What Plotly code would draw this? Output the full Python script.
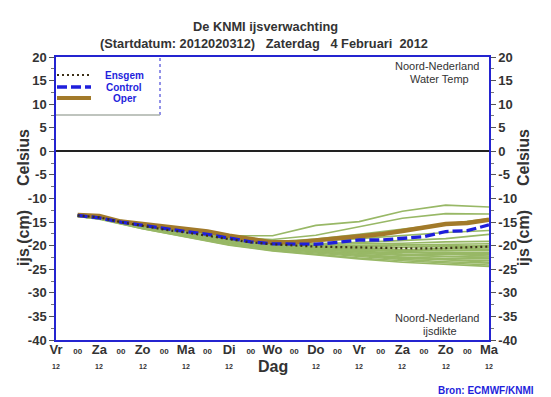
import plotly.graph_objects as go

# ---------------- data ----------------
hours_main = [12, 24, 36, 48, 60, 72, 84, 96, 108, 120, 132, 144, 156, 168, 180, 192, 204, 216, 228, 240]
oper = [-13.5, -13.7, -14.9, -15.4, -16.0, -16.4, -17.0, -17.9, -18.7, -19.3,
        -19.3, -18.9, -18.6, -18.2, -17.6, -16.9, -16.1, -15.4, -15.2, -14.5]
control = [-13.6, -14.1, -15.0, -15.7, -16.4, -17.0, -17.6, -18.4, -19.2, -19.6,
           -19.6, -19.7, -19.3, -18.8, -18.8, -18.4, -18.1, -17.0, -16.8, -15.6]
ensgem = [-13.6, -14.0, -15.0, -15.8, -16.6, -17.2, -17.9, -18.6, -19.3, -19.7,
          -20.0, -20.2, -20.3, -20.4, -20.5, -20.6, -20.6, -20.5, -20.4, -20.2]

hours_members = [12, 24, 48, 72, 96, 120, 144, 168, 192, 216, 240]
members = [
    [-13.5, -13.8, -15.5, -16.9, -17.9, -17.9, -15.7, -14.9, -12.7, -11.4, -11.8],
    [-13.6, -14.0, -15.6, -17.0, -18.2, -18.7, -17.8, -16.0, -14.2, -13.2, -13.3],
    [-13.6, -14.1, -15.7, -17.1, -18.4, -19.2, -18.6, -17.6, -16.5, -15.3, -14.3],
    [-13.5, -14.0, -15.6, -17.0, -18.3, -19.0, -19.0, -18.5, -17.8, -17.2, -16.8],
    [-13.6, -14.1, -15.8, -17.3, -18.7, -19.5, -19.6, -19.3, -18.9, -18.5, -17.6],
    [-13.6, -14.0, -15.7, -17.1, -18.5, -19.4, -19.8, -19.6, -19.5, -19.2, -19.1],
    [-13.7, -14.1, -15.9, -17.4, -18.8, -19.8, -20.1, -20.0, -19.9, -19.8, -19.6],
    [-13.6, -14.0, -15.8, -17.2, -18.6, -19.6, -20.0, -20.2, -20.3, -20.2, -20.0],
    [-13.7, -14.1, -15.9, -17.4, -18.9, -19.9, -20.4, -20.6, -20.8, -20.7, -20.5],
    [-13.6, -14.2, -16.0, -17.6, -19.0, -20.1, -20.6, -20.9, -21.1, -21.1, -21.0],
    [-13.7, -14.2, -16.1, -17.7, -19.2, -20.3, -20.9, -21.2, -21.5, -21.5, -21.4],
    [-13.7, -14.1, -16.0, -17.6, -19.1, -20.2, -20.8, -21.4, -21.8, -21.9, -21.9],
    [-13.7, -14.2, -16.1, -17.8, -19.3, -20.4, -21.1, -21.6, -22.1, -22.3, -22.4],
    [-13.8, -14.3, -16.2, -17.9, -19.5, -20.6, -21.3, -21.9, -22.4, -22.7, -22.8],
    [-13.7, -14.2, -16.2, -17.8, -19.4, -20.6, -21.4, -22.1, -22.7, -23.0, -23.2],
    [-13.8, -14.3, -16.3, -18.0, -19.6, -20.8, -21.6, -22.3, -22.9, -23.4, -23.7],
    [-13.8, -14.3, -16.4, -18.1, -19.8, -21.0, -21.8, -22.6, -23.2, -23.7, -24.1],
    [-13.8, -14.4, -16.4, -18.2, -19.9, -21.1, -22.0, -22.8, -23.5, -24.0, -24.4],
    [-13.6, -14.0, -15.7, -17.2, -18.5, -19.5, -19.9, -20.4, -20.9, -21.0, -20.8],
    [-13.6, -14.1, -15.9, -17.4, -18.8, -19.8, -20.3, -20.8, -21.3, -21.6, -21.7],
    [-13.7, -14.1, -16.0, -17.5, -19.0, -20.0, -20.7, -21.3, -21.9, -22.3, -22.6],
    [-13.7, -14.2, -16.1, -17.7, -19.2, -20.4, -21.2, -21.9, -22.5, -23.0, -23.5],
    [-13.6, -14.0, -15.8, -17.3, -18.7, -19.7, -20.2, -20.6, -21.2, -21.8, -22.2],
    [-13.6, -14.1, -15.8, -17.2, -18.6, -19.6, -20.1, -20.0, -19.8, -19.9, -20.3],
    [-13.7, -14.2, -16.0, -17.6, -19.1, -20.1, -20.6, -21.0, -21.0, -20.6, -20.1],
]

tick_hours = [0, 12, 24, 36, 48, 60, 72, 84, 96, 108, 120, 132, 144, 156, 168, 180, 192, 204, 216, 228, 240]
day_names = ["Vr", "Za", "Zo", "Ma", "Di", "Wo", "Do", "Vr", "Za", "Zo", "Ma"]
hour_labels = ["12", "12", "12", "12", "12", "", "12", "12", "12", "12", "12"]
y_ticks = [20, 15, 10, 5, 0, -5, -10, -15, -20, -25, -30, -35, -40]
y_ticktext = ["20", "15", "10", "5", "0", "-5", "-10", "-15", "-20", "-25", "-30", "-35", "-40"]

# ---------------- styles ----------------
FONT = "Liberation Sans"
GREEN = "#98b866"
BROWN = "#a27a2a"
BLUE = "#1f1fdc"
DOTC = "#3c3016"
AXBLUE = "#2424d0"
TXT = "#333333"

x_ticktext = []
d = 0
for h in tick_hours:
    if h % 24 == 0:
        x_ticktext.append(day_names[d])
        d += 1
    else:
        x_ticktext.append("<span style='font-size:8px'>00</span>")

fig = go.Figure()
for m in members:
    fig.add_trace(go.Scatter(x=hours_members, y=m, mode="lines",
                             line=dict(color=GREEN, width=1.6),
                             showlegend=False, hoverinfo="skip"))
fig.add_trace(go.Scatter(x=hours_main, y=oper, mode="lines", name="Oper",
                         line=dict(color=BROWN, width=4.5), showlegend=False))
fig.add_trace(go.Scatter(x=hours_main, y=control, mode="lines", name="Control",
                         line=dict(color=BLUE, width=3.3, dash="10px,4px"), showlegend=False))
fig.add_trace(go.Scatter(x=hours_main, y=ensgem, mode="lines", name="Ensgem",
                         line=dict(color=DOTC, width=2.2, dash="2px,3px"), showlegend=False))
# right axis carries the same scale
fig.add_trace(go.Scatter(x=hours_main, y=ensgem, mode="lines", yaxis="y2",
                         line=dict(color="rgba(0,0,0,0)", width=0),
                         showlegend=False, hoverinfo="skip"))

W, H = 551, 397
L, R, T, B = 56, 62, 57, 57
pw, ph = W - L - R, H - T - B


def px(x):
    return (x - L) / pw


def py(y):
    return (H - B - y) / ph


yaxis_common = dict(
    range=[-40, 20], tickmode="array", tickvals=y_ticks, ticktext=y_ticktext,
    ticks="outside", ticklen=5, tickcolor="#555", tickwidth=1,
    minor=dict(tickmode="linear", tick0=0, dtick=2.5, ticks="outside", ticklen=3, tickcolor="#777"),
    tickfont=dict(family=FONT, size=13, color=TXT, weight="bold"),
    showgrid=False, showline=True, linecolor=AXBLUE, linewidth=1.5,
)

fig.update_layout(
    width=W, height=H,
    margin=dict(l=L, r=R, t=T, b=B, pad=0),
    paper_bgcolor="white", plot_bgcolor="white",
    showlegend=False,
    xaxis=dict(range=[0, 240], tickmode="array", tickvals=tick_hours, ticktext=x_ticktext,
               ticks="", ticklabelstandoff=-4,
               tickfont=dict(family=FONT, size=13, color=TXT, weight="bold"),
               showgrid=False, zeroline=False, showline=True, linecolor=AXBLUE, linewidth=2,
               mirror=True),
    yaxis=dict(**yaxis_common, zeroline=True, zerolinecolor="#222", zerolinewidth=2),
    yaxis2=dict(**yaxis_common, overlaying="y", side="right", zeroline=False),
)

# "12" hour row under the day names
day_hours = [h for h in tick_hours if h % 24 == 0]
for h, lab in zip(day_hours, hour_labels):
    if lab:
        fig.add_annotation(xref="x", yref="paper", x=h, y=py(366), text=lab, showarrow=False,
                           xanchor="center", yanchor="middle",
                           font=dict(family=FONT, size=7, color=TXT, weight="bold"))

# legend box (manual)
fig.add_shape(type="rect", xref="paper", yref="paper", x0=0, x1=px(160), y0=py(115), y1=1,
              line=dict(width=0), fillcolor="white", layer="below")
fig.add_shape(type="line", xref="paper", yref="paper", x0=px(160), x1=px(160), y0=py(115), y1=1,
              line=dict(color=AXBLUE, width=1, dash="dot"))
fig.add_shape(type="line", xref="paper", yref="paper", x0=0, x1=px(160), y0=py(115), y1=py(115),
              line=dict(color="#aab0a8", width=1.5))
legend_items = [("Ensgem", DOTC, 2.2, "2px,3px", 75), ("Control", BLUE, 3.3, "10px,4px", 87),
                ("Oper", BROWN, 4, "solid", 98)]
for name, col, wd, dash, yy in legend_items:
    fig.add_shape(type="line", xref="paper", yref="paper", x0=px(57), x1=px(91), y0=py(yy), y1=py(yy),
                  line=dict(color=col, width=wd, dash=dash))
    fig.add_annotation(xref="paper", yref="paper", x=px(124), y=py(yy), text=name, showarrow=False,
                       font=dict(family=FONT, size=10, color=BLUE, weight="bold"),
                       xanchor="center", yanchor="middle")

ann = [
    ("De KNMI ijsverwachting", 265, 27, 12.8, TXT, "bold", 0),
    ("(Startdatum: 2012020312)\u00a0\u00a0\u00a0Zaterdag\u00a0\u00a0\u00a04 Februari\u00a0\u00a02012", 264, 43, 12.8, TXT, "bold", 0),
    ("Noord-Nederland", 437, 66, 11, TXT, "normal", 0),
    ("Water Temp", 439, 79, 11, TXT, "normal", 0),
    ("Noord-Nederland", 437, 318, 11, TXT, "normal", 0),
    ("ijsdikte", 440, 331, 11, TXT, "normal", 0),
    ("Bron: ECMWF/KNMI", 486, 390, 10, BLUE, "bold", 0),
    ("Dag", 273, 366, 16, TXT, "bold", 0),
    ("Celsius", 23, 158, 16, TXT, "bold", -90),
    ("ijs (cm)", 23, 238, 16, TXT, "bold", -90),
    ("Celsius", 523, 158, 16, TXT, "bold", -90),
    ("ijs (cm)", 523, 238, 16, TXT, "bold", -90),
]
for text, x, y, size, col, wt, ang in ann:
    fig.add_annotation(xref="paper", yref="paper", x=px(x), y=py(y), text=text, showarrow=False,
                       textangle=ang, xanchor="center", yanchor="middle",
                       font=dict(family=FONT, size=size, color=col, weight=wt))

fig.write_html("out.html", config={"displayModeBar": False},
               post_script="document.body.style.margin='0';document.body.style.padding='0';"
                           "document.body.style.overflow='hidden';")
